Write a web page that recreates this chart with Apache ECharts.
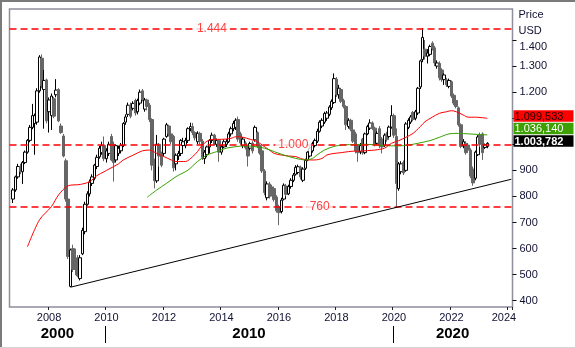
<!DOCTYPE html>
<html><head><meta charset="utf-8">
<script src="https://cdn.jsdelivr.net/npm/echarts@6/dist/echarts.min.js"></script>
<style>html,body{margin:0;padding:0;background:#fff}#c{width:576px;height:348px}</style>
</head><body><div id="c"></div>
<script>
// ---- axis range ----
const axisStart = '2006-09';
const axisEnd = '2024-02';
const yMin = 376, yMax = 1519;
const yTickValues = [400, 500, 600, 700, 800, 900, 1000, 1100, 1200, 1300, 1400];

// ---- monthly candles (Oct 2006 .. Apr 2023) ----
const candleStart = '2006-10';
const opens = [790,825,875,
915,895,930,970,1015,1065,1080,1085,1205,1330,1210,1247,
1125,1110,1175,1190,1210,1070,1032,937,790,455,600,565,
560,485,580,665,770,810,850,870,915,952,968,995,
945,965,1030,1000,940,965,975,995,1085,1115,1150,1138,
1168,1125,1158,1205,1135,1170,1150,1095,925,860,1000,965,
965,1030,1070,1040,1030,925,955,965,995,995,1015,1060,
1068,1045,1010,1042,1012,945,960,990,1015,1035,1000,1015,
970,990,1000,1010,1040,1060,1065,1095,1040,995,1005,990,
985,1005,1017,1045,995,975,898,795,848,836,830,798,
760,742,790,840,810,838,862,885,892,912,862,908,
940,955,975,995,1012,1050,1070,1085,1100,1115,1140,1160,
1250,1190,1210,1168,1145,1068,1092,1055,1040,995,972,1020,
968,1040,1062,1082,1062,1004,1060,1020,995,1040,1030,1066,
1110,1030,830,895,930,900,1065,1085,1122,1100,1120,1220,
1325,1365,1338,1345,1388,1370,1300,1310,1285,1248,1247,1222,
1240,1188,1168,1140,1075,995,1004,997,978,905,870,960,
1036,1040,988,992];
const closes = [825,875,915,
895,930,970,1015,1065,1110,1110,1205,1335,1225,1245,1090,
1170,1185,1108,1208,1090,1045,955,790,570,595,520,520,
495,565,670,770,810,855,875,920,950,985,995,945,
975,1000,940,930,995,985,995,1080,1105,1150,1108,1157,
1120,1168,1200,1172,1170,1145,1095,920,860,1000,955,920,
1020,1075,1040,1010,910,958,965,1015,1010,1015,1060,1068,
1045,1025,1042,1012,950,970,990,1015,1035,1000,1015,970,
990,1010,1010,1040,1060,1080,1092,1020,1005,1020,987,955,
1003,975,1065,993,967,898,815,848,800,808,788,745,
738,786,843,808,838,862,882,912,914,875,905,938,
970,985,1003,1015,1050,1085,1092,1118,1120,1143,1165,1252,
1190,1215,1165,1145,1075,1092,1058,1012,975,968,995,968,
1040,1068,1082,1062,1000,1042,995,990,1035,1018,1066,1110,
1035,850,925,925,890,1078,1092,1105,1095,1125,1215,1320,
1410,1338,1350,1375,1368,1312,1312,1255,1248,1266,1228,1245,
1185,1158,1145,1075,992,1010,968,978,878,852,970,1028,
1000,968,998,1003.782];
const lows = [775,818,868,
885,848,924,964,1008,1058,960,1075,1198,1215,1060,1080,
1045,1055,1100,1180,1085,1040,950,780,560,452,510,498,
490,478,575,655,765,800,840,862,905,945,960,935,
930,955,935,857,930,955,965,990,1075,1105,1100,1130,
1110,1115,1150,1165,1125,1130,1085,900,831,852,914,912,
955,1025,1030,1000,895,900,940,955,985,985,1005,1050,
1035,1015,1000,1000,940,925,950,965,1005,995,990,933,
960,985,990,1005,1030,1050,1055,1010,998,985,980,915,
978,965,1010,985,960,890,805,785,792,800,780,738,
690,735,785,800,805,830,855,880,885,865,855,902,
935,950,968,988,1005,1045,1062,1078,1090,1108,1132,1155,
1182,1175,1158,1138,1055,1060,1050,1005,965,933,962,960,
962,1035,1055,1055,992,998,985,965,990,1010,1025,1060,
1025,761,822,885,882,895,1058,1078,1088,1092,1112,1212,
1315,1325,1310,1338,1360,1300,1290,1245,1240,1228,1220,1215,
1178,1150,1138,1068,985,985,960,970,870,841,862,955,
990,940,982,985];
const highs = [832,880,925,
925,936,976,1020,1074,1155,1118,1215,1342,1345,1285,1252,
1180,1195,1182,1250,1215,1080,1040,945,795,600,615,600,
575,575,680,780,820,865,885,925,960,995,1010,1030,
985,1010,1040,1010,1000,995,1005,1085,1115,1160,1160,1165,
1175,1175,1210,1212,1178,1175,1158,1100,945,1036,1005,972,
1025,1082,1075,1050,1036,965,975,1020,1025,1025,1065,1083,
1082,1050,1050,1048,1020,978,995,1020,1045,1040,1022,1020,
998,1018,1020,1048,1068,1090,1100,1106,1048,1028,1012,998,
1010,1012,1072,1050,1002,982,905,858,856,845,838,805,
768,795,850,848,845,870,890,920,922,918,912,945,
976,992,1010,1022,1060,1092,1100,1125,1128,1150,1172,1272,
1258,1228,1215,1175,1150,1100,1098,1060,1048,1000,1005,1025,
1045,1075,1096,1088,1068,1050,1070,1028,1042,1048,1072,1150,
1118,1061,932,935,938,1085,1100,1112,1128,1132,1220,1325,
1445,1400,1365,1382,1395,1378,1322,1318,1292,1272,1255,1252,
1245,1195,1175,1145,1080,1020,1012,1005,985,915,976,1035,
1045,1046,1003,1008];

// ---- moving averages ----
const redMaDates = ['2007-04','2007-09','2008-02','2008-05','2008-09','2009-02','2009-06','2009-09','2009-12','2010-02','2010-06','2010-08','2010-12','2011-04','2011-07','2011-10','2012-01','2012-04','2012-06','2012-10','2013-01','2013-03','2013-05','2013-08','2013-10','2014-01','2014-05','2014-07','2014-10','2015-01','2015-04','2015-06','2015-09','2015-11','2016-02','2016-05','2016-08','2016-10','2017-01','2017-04','2017-07','2017-09','2017-12','2018-03','2018-06','2018-09','2018-11','2019-02','2019-05','2019-09','2019-12','2020-03','2020-06','2020-09','2020-12','2021-02','2021-05','2021-08','2021-11','2022-01','2022-03','2022-06','2022-08','2022-11','2023-02','2023-04'];
const redMaValues = [607,710,761,806,841,846,857,880,895,905,925,940,958,975,978,965,953,940,934,934,953,972,997,1017,1019,1019,1023,1029,1027,1019,1010,997,978,965,959,955,953,946,940,940,946,959,965,968,972,974,974,976,978,985,1004,1014,1027,1042,1068,1087,1104,1119,1125,1129,1125,1112,1104,1104,1102,1099.533];
const greenMaDates = ['2011-06','2011-10','2012-02','2012-06','2012-11','2013-03','2013-07','2013-11','2014-03','2014-07','2014-11','2015-03','2015-07','2015-11','2016-03','2016-08','2016-12','2017-03','2017-05','2017-08','2017-12','2018-04','2018-09','2019-01','2019-05','2019-09','2020-03','2020-07','2020-11','2021-04','2021-08','2021-12','2022-04','2022-08','2022-12','2023-04'];
const greenMaValues = [797,825,850,876,901,934,959,972,985,991,994,991,985,972,959,946,940,946,960,978,992,998,999,1000,998,995,994,997,1004,1014,1027,1040,1042,1040,1038,1036.140];

// ---- support trend line ----
const trendDates = ['2008-10', '2024-02'];
const trendValues = [452, 866];

// ---- horizontal levels ----
const levelValues = [1444, 1000, 760];
const levelLabelDates = ['2013-09', '2016-07', '2017-06'];

// ---- last values shown on the right ----
const lastRed = 1099.533, lastGreen = 1036.140, lastPrice = 1003.782;

// ---- decade band ----
const decadeNames = ['2000', '2010', '2020'];
const decadeBreaks = ['2010-01', '2020-01'];

function fmtDE(v, dec) {
  const s = v.toFixed(dec);
  let parts = s.split('.');
  let ip = parts[0].replace(/\B(?=(\d{3})+(?!\d))/g, '.');
  return parts.length > 1 ? ip + ',' + parts[1] : ip;
}
function nextMonth(k) {
  let [y, m] = k.split('-').map(Number);
  m++; if (m > 12) { m = 1; y++; }
  return y + '-' + String(m).padStart(2, '0');
}
const categories = [];
for (let k = axisStart; ; k = nextMonth(k)) { categories.push(k); if (k === axisEnd) break; }
const cStart = categories.indexOf(candleStart);
const candleData = categories.map((c, idx) => {
  const j = idx - cStart;
  if (j >= 0 && j < opens.length) return [opens[j], closes[j], lows[j], highs[j]];
  return '-';
});
const isEvenJan = (v) => { const [y, m] = v.split('-'); return m === '01' && (+y % 2 === 0); };

const FONT = "'Liberation Sans', Arial, sans-serif";
const chart = echarts.init(document.getElementById('c'));
chart.setOption({
  animation: false,
  textStyle: { fontFamily: FONT },
  grid: { left: 9.5, right: 63.5, top: 9, bottom: 41, show: true, borderColor: '#8e8e9c', borderWidth: 1.5, backgroundColor: '#fff' },
  xAxis: {
    type: 'category', data: categories, boundaryGap: true,
    axisLine: { show: false },
    axisTick: { show: true, interval: (i, v) => isEvenJan(v), length: 3, lineStyle: { color: '#222', width: 1 } },
    axisLabel: {
      interval: (i, v) => isEvenJan(v), margin: 5, fontSize: 11, color: '#111133', fontFamily: FONT,
      formatter: (v) => { const y = v.slice(0, 4); return y === '2024' ? '{r|' + y + '}' : y; },
      rich: { r: { padding: [0, 10, 0, 0], fontSize: 11, color: '#111133', fontFamily: FONT } }
    },
    splitLine: { show: false }
  },
  yAxis: {
    type: 'value', position: 'right', min: yMin, max: yMax, scale: true,
    axisLine: { show: false }, splitLine: { show: false },
    axisTick: { show: true, length: 4, customValues: yTickValues, lineStyle: { color: '#111', width: 1 } },
    axisLabel: {
      customValues: yTickValues, margin: 7, fontSize: 11, color: '#111133', fontFamily: FONT,
      formatter: (v) => v === 1400 ? '{t|' + fmtDE(v, 0) + '}' : fmtDE(v, 0),
      rich: { t: { padding: [13, 0, 0, 0], fontSize: 11, color: '#111133', fontFamily: FONT } }
    }
  },
  series: [
    {
      type: 'candlestick', data: candleData, barWidth: 3, z: 3,
      itemStyle: { color: '#ffffff', color0: '#666666', borderColor: '#000000', borderColor0: '#666666', borderWidth: 1 },
      markLine: {
        silent: true, symbol: ['none', 'none'], animation: false,
        label: { show: false },
        lineStyle: { color: '#ff0000', type: [7, 4], width: 1.5 },
        data: levelValues.map(v => ({ yAxis: v }))
      }
    },
    {
      type: 'line', data: redMaDates.map((d, k) => [d, redMaValues[k]]), showSymbol: false, smooth: 0.3, z: 4,
      lineStyle: { color: '#ff0000', width: 1 }
    },
    {
      type: 'line', data: greenMaDates.map((d, k) => [d, greenMaValues[k]]), showSymbol: false, smooth: 0.3, z: 4,
      lineStyle: { color: '#33a000', width: 1 }
    },
    {
      type: 'line', data: trendDates.map((d, k) => [d, trendValues[k]]), showSymbol: false, z: 5,
      lineStyle: { color: '#000000', width: 1 }
    },
    {
      type: 'scatter', symbolSize: 0, z: 6, silent: true,
      data: levelLabelDates.map((d, k) => [d, levelValues[k]]),
      label: {
        show: true, position: 'inside', formatter: (p) => fmtDE(p.value[1], 0),
        color: '#ff1010', fontSize: 12, fontFamily: FONT, backgroundColor: '#ffffff', padding: [1, 3]
      }
    }
  ]
});

// ---- overlay texts computed from the axes ----
const px = (cat, val) => chart.convertToPixel({ gridIndex: 0 }, [cat, val]);
const band = px(categories[1], 1000)[0] - px(categories[0], 1000)[0];
const leftEdge = px(categories[0], 1000)[0] - band / 2;
const rightEdge = px(categories[categories.length - 1], 1000)[0] + band / 2;
const breakX = decadeBreaks.map(d => px(d, 1000)[0] - band / 2);
const edges = [leftEdge, ...breakX, rightEdge];
const g = [];
// outer frame
g.push({ type: 'line', shape: { x1: 1, y1: 0, x2: 1, y2: 348 }, style: { stroke: '#7a7a7a', lineWidth: 2 }, z: 100 });
g.push({ type: 'line', shape: { x1: 0, y1: 1, x2: 576, y2: 1 }, style: { stroke: '#7a7a7a', lineWidth: 2 }, z: 100 });
g.push({ type: 'line', shape: { x1: 575.5, y1: 0, x2: 575.5, y2: 348 }, style: { stroke: '#d4d4d4', lineWidth: 1 }, z: 100 });
g.push({ type: 'line', shape: { x1: 0, y1: 347.5, x2: 576, y2: 347.5 }, style: { stroke: '#d4d4d4', lineWidth: 1 }, z: 100 });
// axis title
const axisX = rightEdge + 6;
g.push({ type: 'text', x: axisX, y: 15, style: { text: 'Price', fill: '#111133', font: '11px ' + FONT, textVerticalAlign: 'middle' }, z: 100 });
g.push({ type: 'text', x: axisX, y: 31, style: { text: 'USD', fill: '#111133', font: '11px ' + FONT, textVerticalAlign: 'middle' }, z: 100 });
// decade band
breakX.forEach(x => g.push({ type: 'line', shape: { x1: Math.round(x) + 0.5, y1: 326, x2: Math.round(x) + 0.5, y2: 343 }, style: { stroke: '#000', lineWidth: 1 }, z: 100 }));
decadeNames.forEach((n, k) => {
  g.push({ type: 'text', x: (edges[k] + edges[k + 1]) / 2, y: 334, style: { text: n, fill: '#000', font: "bold 15px 'Liberation Sans Narrow', 'Liberation Sans', Arial", textAlign: 'center', textVerticalAlign: 'middle' }, z: 100 });
});
// last-value boxes, stacked upward from the lowest value
const boxes = [
  { v: lastPrice, fill: '#000000', color: '#ffffff', bold: true },
  { v: lastGreen, fill: '#3ca000', color: '#ffffff', bold: false },
  { v: lastRed, fill: '#ff0000', color: '#220000', bold: false }
];
let prevTop = Infinity;
const bh = 11.5;
boxes.forEach(b => {
  const y = px(categories[0], b.v)[1];
  let top = Math.min(y - 8, prevTop - bh - 1);
  prevTop = top;
  g.push({ type: 'rect', shape: { x: rightEdge + 1, y: top, width: 60, height: bh }, style: { fill: b.fill }, z: 110 });
  g.push({ type: 'text', x: rightEdge + 2, y: top + bh / 2 + 0.5, style: { text: fmtDE(b.v, 3), fill: b.color, font: (b.bold ? 'bold ' : '') + '11px ' + FONT, textVerticalAlign: 'middle' }, z: 111 });
});
chart.setOption({ graphic: g });
</script>
</body></html>
